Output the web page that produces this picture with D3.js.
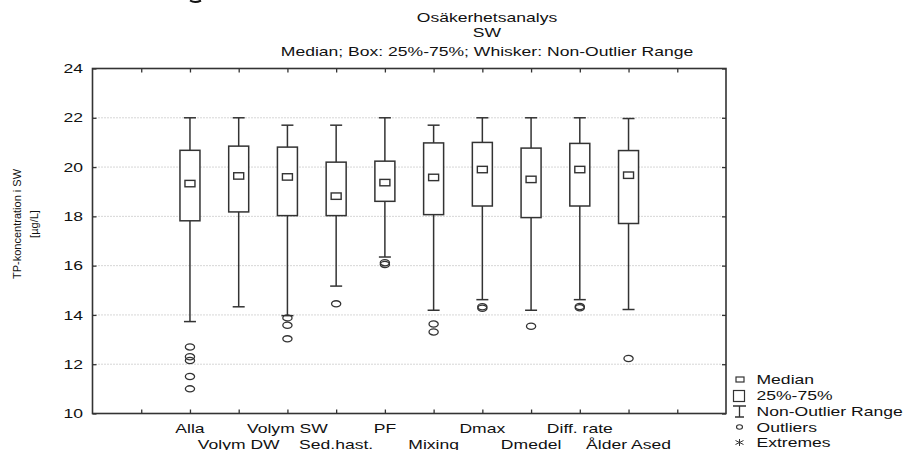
<!DOCTYPE html>
<html>
<head>
<meta charset="utf-8">
<script src="https://cdn.jsdelivr.net/npm/d3@7"></script>
<style>
  body { margin: 0; background: #fff; }
  text { font-family: "Liberation Sans", Arial, sans-serif; fill: #111; }
</style>
</head>
<body>
<script>
// --- data ---
const categories = ["Alla", "Volym DW", "Volym SW", "Sed.hast.", "PF", "Mixing", "Dmax", "Dmedel", "Diff. rate", "Ålder Ased"];
const whiskerHigh = [22.0, 22.0, 21.7, 21.7, 22.0, 21.7, 22.0, 22.0, 22.0, 21.97];
const q3 = [20.68, 20.85, 20.81, 20.2, 20.24, 20.98, 21.0, 20.77, 20.96, 20.67];
const medians = [19.33, 19.64, 19.6, 18.82, 19.37, 19.58, 19.9, 19.5, 19.9, 19.67];
const q1 = [17.82, 18.18, 18.03, 18.03, 18.61, 18.07, 18.42, 17.95, 18.42, 17.71];
const whiskerLow = [13.73, 14.33, 13.97, 15.17, 16.35, 14.19, 14.62, 14.19, 14.62, 14.22];
const outliers = [
  [12.7, 12.3, 12.15, 11.5, 11.0],
  [],
  [13.88, 13.58, 13.03],
  [14.45],
  [16.05, 16.12],
  [13.63, 13.31],
  [14.27, 14.33],
  [13.54],
  [14.29, 14.34],
  [12.23]
];
const yTicks = [10, 12, 14, 16, 18, 20, 22, 24];
const titleLines = ["Osäkerhetsanalys", "SW", "Median; Box: 25%-75%; Whisker: Non-Outlier Range"];
const yLabelLines = ["TP-koncentration i SW", "[µg/L]"];
const legendLabels = ["Median", "25%-75%", "Non-Outlier Range", "Outliers", "Extremes"];

const width = 904, height = 450;
const SX = 1.35; // the picture's text is stretched sideways
const ink = "#333";

const svg = d3.select("body").append("svg")
  .attr("width", width)
  .attr("height", height);

const x = d3.scaleLinear().domain([0, 13]).range([92.5, 726]);
const y = d3.scaleLinear().domain([10, 24]).range([413.5, 68.5]);

function label(sel, tx, ty, str, anchor, size) {
  return sel.append("text")
    .attr("transform", `translate(${tx},${ty}) scale(${SX},1)`)
    .attr("text-anchor", anchor)
    .style("font-size", size + "px")
    .text(str);
}

// scrap of a glyph cut off at the top edge
svg.append("path")
  .attr("d", "M190,0.5Q195,3.5 201,0.5")
  .attr("fill", "none").attr("stroke", "#111").attr("stroke-width", 2);

// titles
const titleY = [21.5, 37, 56];
titleLines.forEach((t, i) => label(svg, 487, titleY[i], t, "middle", 13));

// grid
svg.append("g").selectAll("line")
  .data(yTicks.filter(v => v > 10 && v < 24))
  .join("line")
  .attr("x1", x(0)).attr("x2", x(13))
  .attr("y1", d => y(d)).attr("y2", d => y(d))
  .attr("stroke", "#999")
  .attr("stroke-width", 0.8)
  .attr("stroke-dasharray", "1,2");

// axes, ticks point inwards
const xTicks = d3.range(1, 13);
const axes = [
  [d3.axisLeft(y).tickValues(yTicks).tickSizeInner(-4).tickSizeOuter(0).tickPadding(7), `translate(${x(0)},0)`],
  [d3.axisRight(y).tickValues(yTicks).tickSizeInner(-4).tickSizeOuter(0).tickFormat(""), `translate(${x(13)},0)`],
  [d3.axisBottom(x).tickValues(xTicks).tickSizeInner(-4).tickSizeOuter(0).tickFormat(""), `translate(0,${y(10)})`],
  [d3.axisTop(x).tickValues(xTicks).tickSizeInner(-4).tickSizeOuter(0).tickFormat(""), `translate(0,${y(24)})`]
];
axes.forEach(([ax, tr]) => {
  const g = svg.append("g").attr("transform", tr).call(ax);
  g.select(".domain").remove();
  g.selectAll(".tick line").attr("stroke", ink).attr("stroke-width", 1.3);
  g.selectAll(".tick text")
    .attr("transform", `scale(${SX},1)`)
    .style("font-size", "13px")
    .style("font-family", "Liberation Sans, Arial, sans-serif")
    .attr("fill", "#111");
});

// frame
svg.append("rect")
  .attr("x", x(0)).attr("y", y(24))
  .attr("width", x(13) - x(0)).attr("height", y(10) - y(24))
  .attr("fill", "none").attr("stroke", ink).attr("stroke-width", 1.6);

// category labels, alternating rows
categories.forEach((c, i) => {
  label(svg, x(i + 2), i % 2 === 0 ? 432.5 : 448.5, c, "middle", 13);
});

// y label
const yl = svg.append("g").attr("transform", "translate(0,224)");
yLabelLines.forEach((t, i) => {
  yl.append("text")
    .attr("transform", `translate(${21 + i * 17},0) rotate(-90)`)
    .attr("text-anchor", "middle")
    .style("font-size", "11px")
    .text(t);
});

// boxes
const boxW = 20, capW = 12;
const boxes = svg.append("g").selectAll("g")
  .data(categories.map((c, i) => i))
  .join("g")
  .attr("transform", i => `translate(${x(i + 2)},0)`);

boxes.append("line")
  .attr("y1", i => y(whiskerHigh[i])).attr("y2", i => y(whiskerLow[i]))
  .attr("stroke", ink).attr("stroke-width", 1.5);
boxes.append("line")
  .attr("x1", -capW / 2).attr("x2", capW / 2)
  .attr("y1", i => y(whiskerHigh[i])).attr("y2", i => y(whiskerHigh[i]))
  .attr("stroke", ink).attr("stroke-width", 1.5);
boxes.append("line")
  .attr("x1", -capW / 2).attr("x2", capW / 2)
  .attr("y1", i => y(whiskerLow[i])).attr("y2", i => y(whiskerLow[i]))
  .attr("stroke", ink).attr("stroke-width", 1.5);
boxes.append("rect")
  .attr("x", -boxW / 2).attr("width", boxW)
  .attr("y", i => y(q3[i])).attr("height", i => y(q1[i]) - y(q3[i]))
  .attr("fill", "#fff").attr("stroke", ink).attr("stroke-width", 1.5);
boxes.append("rect")
  .attr("x", -5).attr("width", 10)
  .attr("y", i => y(medians[i]) - 3.2).attr("height", 6.4)
  .attr("fill", "#fff").attr("stroke", ink).attr("stroke-width", 1.4);
boxes.selectAll("ellipse")
  .data(i => outliers[i])
  .join("ellipse")
  .attr("cx", 0).attr("cy", d => y(d))
  .attr("rx", 4.6).attr("ry", 3.1)
  .attr("fill", "none").attr("stroke", ink).attr("stroke-width", 1.3);

// legend
const lg = svg.append("g");
const legY = [383.5, 400, 416, 431.5, 447];
legendLabels.forEach((t, i) => label(lg, 756.5, legY[i], t, "start", 13));
lg.append("rect").attr("x", 736).attr("y", 377).attr("width", 8).attr("height", 5)
  .attr("fill", "#fff").attr("stroke", ink).attr("stroke-width", 1.2);
lg.append("rect").attr("x", 733.5).attr("y", 390.5).attr("width", 11).attr("height", 11)
  .attr("fill", "#fff").attr("stroke", ink).attr("stroke-width", 1.2);
lg.append("path").attr("d", "M733,406H746M739.5,406V417M735,417H744")
  .attr("fill", "none").attr("stroke", ink).attr("stroke-width", 1.3);
lg.append("ellipse").attr("cx", 739.5).attr("cy", 427).attr("rx", 3).attr("ry", 2.2)
  .attr("fill", "none").attr("stroke", ink).attr("stroke-width", 1.1);
lg.append("path").attr("d", "M739.5,439V446M735.5,440.5L743.5,444.5M735.5,444.5L743.5,440.5")
  .attr("fill", "none").attr("stroke", ink).attr("stroke-width", 1);
</script>
</body>
</html>
